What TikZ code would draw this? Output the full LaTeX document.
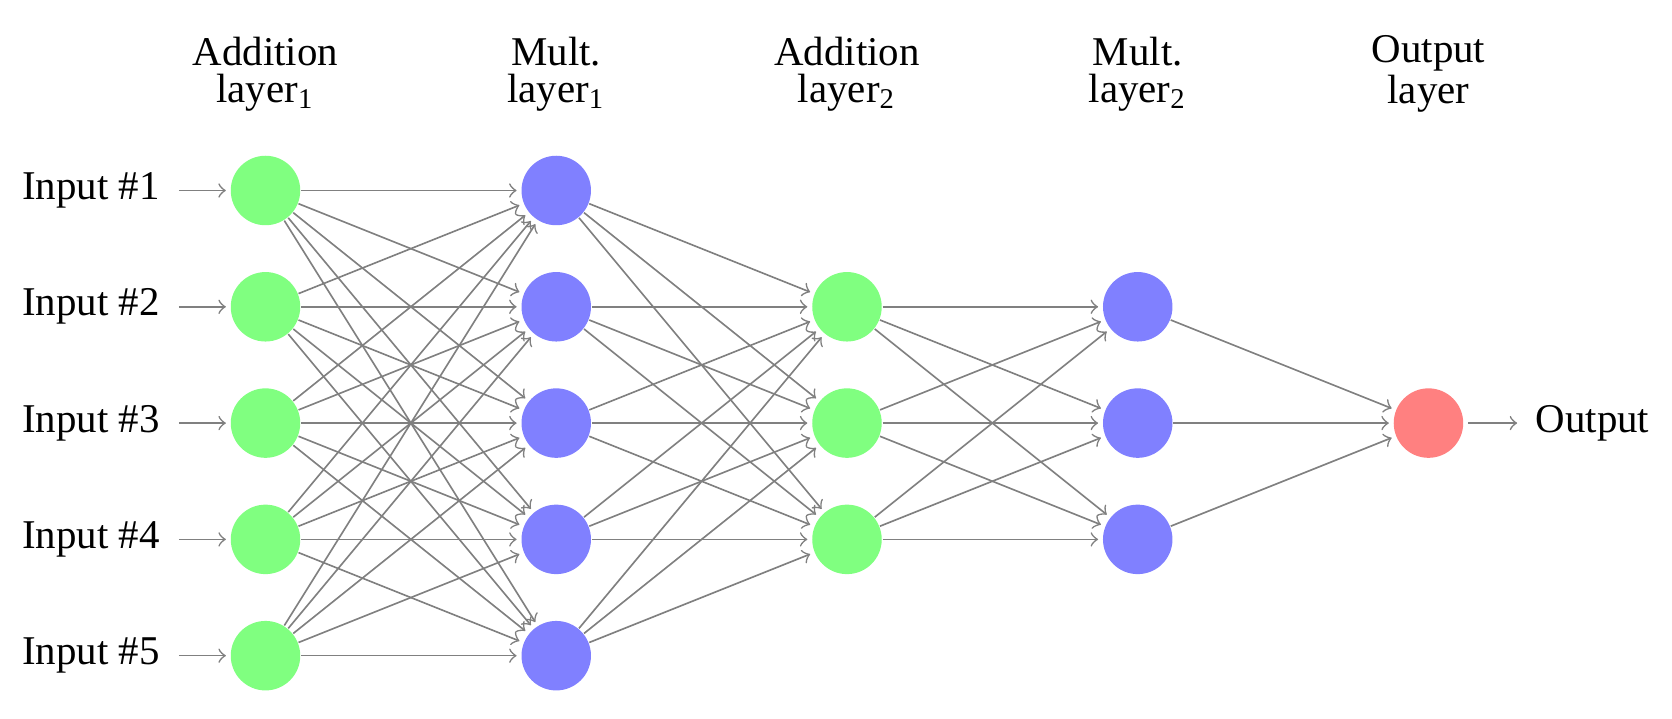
\documentclass[tikz,border=0pt]{standalone}
\usepackage{fontspec}
\setmainfont{Liberation Serif}
\usetikzlibrary{positioning}

\begin{document}
\begin{tikzpicture}[shorten >=1pt, ->, draw=black!50,
    neuron/.style={circle, minimum size=17pt, inner sep=0pt},
    add neuron/.style={neuron, fill=green!50},
    mult neuron/.style={neuron, fill=blue!50},
    output neuron/.style={neuron, fill=red!50},
    annot/.style={align=center, font=\fontsize{10pt}{9pt}\selectfont}]
    \useasboundingbox (-2.283,0.638) rectangle (12.094,-5.536);

    % Addition layer 1 with its inputs
    \foreach \y in {1,...,5} {
        \node[add neuron] (A1-\y) at (0,-\y) {};
        \node[left=13.7pt of A1-\y] (In-\y) {Input \#\y};
        \draw[shorten <=1.2pt] (In-\y) -- (A1-\y);
    }

    % Multiplication layer 1
    \foreach \y in {1,...,5}
        \node[mult neuron] (M1-\y) at (2.5,-\y) {};

    % Addition layer 2 and multiplication layer 2
    \foreach \y in {2,3,4} {
        \node[add neuron] (A2-\y) at (5,-\y) {};
        \node[mult neuron] (M2-\y) at (7.5,-\y) {};
    }

    % Output neuron
    \node[output neuron] (O) at (10,-3) {};
    \node[right=14pt of O] (Out) {Output};
    \draw[shorten <=1pt] (O) -- (Out);

    % Connections between the layers
    \foreach \s in {1,...,5}
        \foreach \d in {1,...,5}
            \path (A1-\s) edge (M1-\d);
    \foreach \s in {1,...,5}
        \foreach \d in {2,3,4}
            \path (M1-\s) edge (A2-\d);
    \foreach \s in {2,3,4}
        \foreach \d in {2,3,4}
            \path (A2-\s) edge (M2-\d);
    \foreach \s in {2,3,4}
        \path (M2-\s) edge (O);

    % Layer annotations
    \foreach \i/\x/\first/\idx in {1/0/Addition/1, 2/2.5/Mult./1,
                                  3/5/Addition/2, 4/7.5/Mult./2}
        \node[annot] (L-\i) at (\x,0) {\first\\layer\textsubscript{\idx}};
    \node[annot] (L-5) at (10,0) {Output\\layer};
\end{tikzpicture}
\end{document}
